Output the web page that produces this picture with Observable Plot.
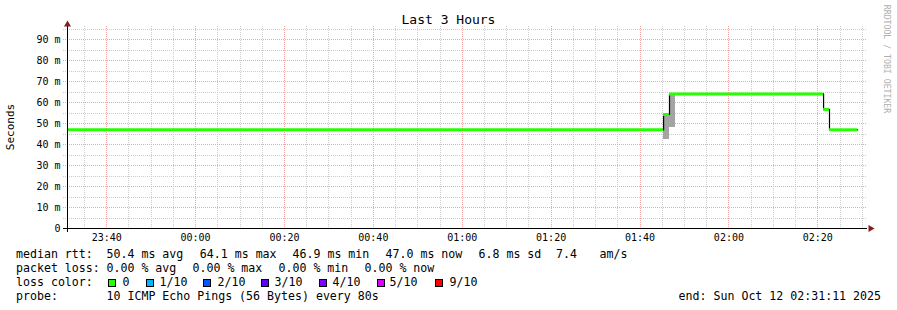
<!DOCTYPE html>
<html>
<head>
<meta charset="utf-8">
<script src="https://cdn.jsdelivr.net/npm/d3@7"></script>
<script src="https://cdn.jsdelivr.net/npm/@observablehq/plot@0.6"></script>
<style>
  html, body { margin: 0; padding: 0; background: #fff; }
  #wrap { position: relative; width: 897px; height: 310px; background: #fff; overflow: hidden;
          font-family: "DejaVu Sans Mono", monospace; color: #000; }
  #chart { position: absolute; left: 0; top: 0; }
  .title { position: absolute; left: 0; width: 897px; top: 11px; text-align: center; font-size: 13px; line-height: 18px; white-space: pre; }
  .ylab { position: absolute; left: 11px; top: 127px; font-size: 11px; line-height: 12px; white-space: pre;
          transform: translate(-50%, -50%) rotate(-90deg); }
  .wm { position: absolute; left: 886px; top: 59px; font-size: 8.2px; line-height: 9px; color: #b0b0b0; white-space: pre;
        transform: translate(-50%, -50%) rotate(90deg); }
  .leg { position: absolute; font-size: 11.6px; line-height: 14px; white-space: pre; }
  .box { position: absolute; width: 6px; height: 6px; border: 1px solid #000; }
  .end { position: absolute; right: 16px; font-size: 11.6px; line-height: 14px; white-space: pre; }
</style>
</head>
<body>
<div id="wrap">
  <div id="chart"></div>
</div>
<script>
// ---- data (values in milliseconds) ----
const titleText = "Last 3 Hours";
const yLabel = "Seconds";
const watermark = "RRDTOOL / TOBI OETIKER";
const timeStart = "2025-10-11 23:31:11";
const timeEnd = "2025-10-12 02:31:11";

// median RTT steps
const segStart = ["2025-10-11 23:31:11", "2025-10-12 01:45:18", "2025-10-12 01:46:38", "2025-10-12 02:21:18", "2025-10-12 02:22:38"];
const segEnd   = ["2025-10-12 01:45:18", "2025-10-12 01:46:38", "2025-10-12 02:21:18", "2025-10-12 02:22:38", "2025-10-12 02:28:58"];
const medianMs = [47.0, 54.3, 64.1, 56.7, 47.0];

// smoke (spread of the pings)
const smokeStart = ["2025-10-12 01:45:18", "2025-10-12 01:46:38"];
const smokeEnd   = ["2025-10-12 01:46:38", "2025-10-12 01:47:58"];
const smokeLo = [42.4, 48.1];
const smokeHi = [54.3, 64.1];

const yTicks = [0, 10, 20, 30, 40, 50, 60, 70, 80, 90];
const yMinorTicks = [5, 15, 25, 35, 45, 55, 65, 75, 85, 95];

const rttLabel = "median rtt:";
const rttItems = ["50.4 ms avg", "64.1 ms max", "46.9 ms min", "47.0 ms now", "6.8 ms sd", "7.4", "am/s"];
const lossLabel = "packet loss:";
const lossItems = ["0.00 % avg", "0.00 % max", "0.00 % min", "0.00 % now"];
const lossColorLabel = "loss color:";
const lossLabels = ["0", "1/10", "2/10", "3/10", "4/10", "5/10", "9/10"];
const lossColors = ["#26ff00", "#00b8ff", "#0059ff", "#5e00ff", "#7e00ff", "#dd00ff", "#ff0000"];
const probeLabel = "probe:";
const probeText = "10 ICMP Echo Pings (56 Bytes) every 80s";
const endText = "end: Sun Oct 12 02:31:11 2025";

// ---- build ----
const parse = d3.utcParse("%Y-%m-%d %H:%M:%S");
const x0 = parse(timeStart), x1 = parse(timeEnd);
const segs = segStart.map((s, i) => ({s: parse(s), e: parse(segEnd[i]), v: medianMs[i]}));
const steps = segs.map(d => ({t: d.s, v: d.v})).concat([{t: segs[segs.length - 1].e, v: segs[segs.length - 1].v}]);
const smoke = smokeStart.map((s, i) => ({s: parse(s), e: parse(smokeEnd[i]), lo: smokeLo[i], hi: smokeHi[i]}));

const marginTop = 26, marginBottom = 17, H = 245;
const yTop = (H - marginTop - marginBottom) / 2.1; // 10 ms = 21 px

const xMajor = d3.utcMinute.every(20).range(x0, x1);
const xMinor = d3.utcMinute.every(5).range(x0, x1).filter(d => d.getUTCMinutes() % 20 !== 0);

const majorColor = "#f2a6a6", minorColor = "#cccccc", arrowColor = "#8b1c1c";

const chart = Plot.plot({
  width: 897,
  height: H,
  marginLeft: 67,
  marginRight: 30,
  marginTop,
  marginBottom,
  x: {type: "utc", domain: [x0, x1]},
  y: {domain: [0, yTop]},
  style: {fontFamily: "DejaVu Sans Mono", fontSize: "10px", color: "#000", background: "transparent", overflow: "visible"},
  marks: [
    Plot.ruleX(xMinor, {stroke: minorColor, strokeDasharray: "1,1", shapeRendering: "crispEdges"}),
    Plot.ruleY(yMinorTicks, {stroke: minorColor, strokeDasharray: "1,1", insetLeft: -4, shapeRendering: "crispEdges"}),
    Plot.ruleX(xMajor, {stroke: majorColor, strokeDasharray: "1,1", shapeRendering: "crispEdges"}),
    Plot.ruleY(yTicks.filter(d => d > 0), {stroke: majorColor, strokeDasharray: "1,1", insetLeft: -4, shapeRendering: "crispEdges"}),
    Plot.rect(smoke, {x1: "s", x2: "e", y1: "lo", y2: "hi", fill: "#a4a4a4", shapeRendering: "crispEdges"}),
    Plot.line(steps, {x: "t", y: "v", curve: "step-after", stroke: "#000", strokeWidth: 1.2}),
    Plot.ruleY(segs, {x1: "s", x2: "e", y: "v", stroke: "#26ff00", strokeWidth: 3}),
    Plot.ruleY([0], {stroke: "#000", insetLeft: -4, shapeRendering: "crispEdges"}),
    Plot.ruleX([x0], {stroke: "#000", insetBottom: -4, shapeRendering: "crispEdges"}),
    Plot.dot([x1], {x: d => d, y: () => 0, symbol: "triangle", rotate: 90, fill: arrowColor, r: 2.6, dx: 3}),
    Plot.dot([x0], {x: d => d, y: () => yTop, symbol: "triangle", fill: arrowColor, r: 2.6, dy: -2}),
    Plot.axisX({ticks: xMajor, tickFormat: d3.utcFormat("%H:%M"), tickSize: 0, tickPadding: 5, label: null, fill: "#000"}),
    Plot.axisY({ticks: yTicks, tickFormat: d => d === 0 ? "0" : d + " m", tickSize: 0, tickPadding: 7, label: null, fill: "#000"})
  ]
});
document.getElementById("chart").appendChild(chart);

const wrap = document.getElementById("wrap");
function addDiv(cls, text, left, top) {
  const el = document.createElement("div");
  el.className = cls;
  el.textContent = text;
  if (left !== undefined && left !== null) el.style.left = left + "px";
  if (top !== undefined) el.style.top = top + "px";
  wrap.appendChild(el);
  return el;
}
addDiv("title", titleText);
addDiv("ylab", yLabel);
addDiv("wm", watermark);

// legend rows (layout positions only)
const rowTop = [247, 261, 275, 289];
const valueLeft = 106.5;
addDiv("leg", rttLabel, 16, rowTop[0]);
const rttLeft = [106.5, 199.8, 292.5, 385.5, 478.5, 556, 599.5];
rttItems.forEach((t, i) => addDiv("leg", t, rttLeft[i], rowTop[0]));
addDiv("leg", lossLabel, 16, rowTop[1]);
const lossLeft = [106.5, 192.5, 278.5, 364.5];
lossItems.forEach((t, i) => addDiv("leg", t, lossLeft[i], rowTop[1]));
addDiv("leg", lossColorLabel, 16, rowTop[2]);
const boxLeft = [108, 146, 203, 261, 319, 377, 435];
const boxTextLeft = [122.5, 159.5, 217.5, 274.5, 332.5, 389.5, 449.5];
lossLabels.forEach((lab, i) => {
  const b = document.createElement("div");
  b.className = "box";
  b.style.background = lossColors[i];
  b.style.left = boxLeft[i] + "px";
  b.style.top = "279px";
  wrap.appendChild(b);
  addDiv("leg", lab, boxTextLeft[i], rowTop[2]);
});
addDiv("leg", probeLabel, 16, rowTop[3]);
addDiv("leg", probeText, valueLeft, rowTop[3]);
addDiv("end", endText, null, rowTop[3]);
</script>
</body>
</html>
